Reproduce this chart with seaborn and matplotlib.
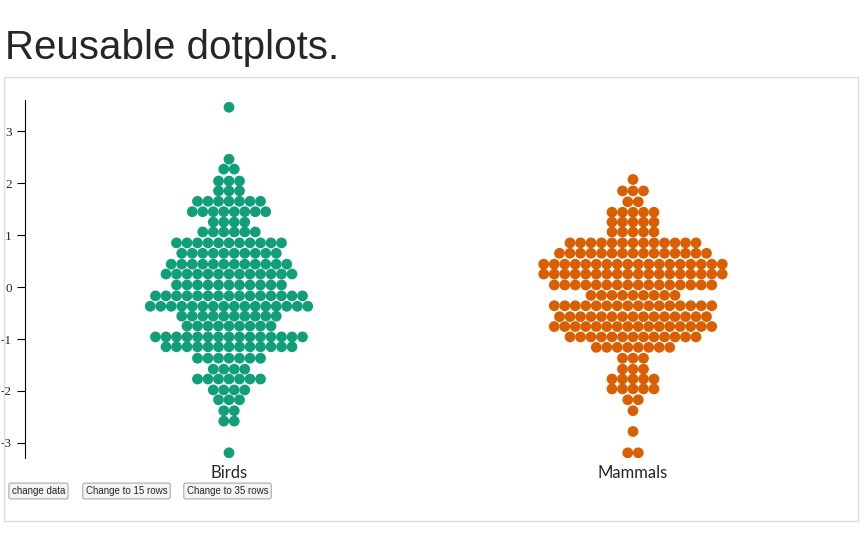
import matplotlib
matplotlib.use("Agg")
import matplotlib.pyplot as plt
import numpy as np
import pandas as pd
import seaborn as sns
from matplotlib.patches import Rectangle

# binned row values and dot counts per row
bird_rows = [3.46, 2.46, 2.27, 2.04, 1.85, 1.65, 1.45, 1.25, 1.06, 0.85, 0.65, 0.44, 0.25,
             0.04, -0.17, -0.37, -0.56, -0.75, -0.96, -1.15, -1.37, -1.58, -1.77, -1.98,
             -2.17, -2.38, -2.58, -3.19]
bird_counts = [1, 1, 2, 3, 3, 7, 8, 4, 6, 11, 10, 12, 13, 11, 15, 16, 10, 9, 15, 13, 7, 4,
               7, 4, 3, 2, 2, 1]
mammal_rows = [2.07, 1.85, 1.64, 1.44, 1.25, 1.06, 0.85, 0.65, 0.44, 0.25, 0.04, -0.16,
               -0.36, -0.57, -0.76, -0.96, -1.16, -1.37, -1.58, -1.77, -1.96, -2.17, -2.38,
               -2.78, -3.19]
mammal_counts = [1, 3, 2, 5, 5, 5, 13, 15, 18, 18, 16, 9, 16, 15, 16, 13, 8, 3, 3, 5, 5, 2,
                 1, 1, 2]
groups = ["Birds", "Mammals"]
colors = {"Birds": "#109f78", "Mammals": "#d95f02"}
yticks = [-3, -2, -1, 0, 1, 2, 3]

centers = {"Birds": 204, "Mammals": 608}  # in axis pixel units
step = 10.5

records = []
for g, rows, counts in [("Birds", bird_rows, bird_counts), ("Mammals", mammal_rows, mammal_counts)]:
    for v, n in zip(rows, counts):
        for i in range(n):
            records.append({"group": g, "y": v, "x": centers[g] + (i - (n - 1) / 2) * step})
df = pd.DataFrame(records)

sns.set_style("white")
fig = plt.figure(figsize=(8.64, 5.38), dpi=100)
W, H = 864, 538

# outer box
fig.patches.append(Rectangle((4 / W, 1 - 521 / H), 854 / W, 444 / H, transform=fig.transFigure,
                             fill=False, edgecolor="#dddddd", linewidth=1))
fig.text(5 / W, 1 - 48 / H, "Reusable dotplots.", fontsize=29, family="Liberation Sans",
         va="center", ha="left")

ax = fig.add_axes([25 / W, 1 - 458 / H, 833 / W, 358 / H])
sns.scatterplot(data=df, x="x", y="y", hue="group", palette=colors, s=60, edgecolor="none",
                legend=False, ax=ax)
ax.set_xlim(0, 833)
ax.set_ylim(-3.29, 3.6)
ax.set_yticks(yticks)
ax.set_yticklabels([str(t) for t in yticks], family="Liberation Serif", fontsize=9.5)
ax.set_xticks([])
ax.set_xlabel("")
ax.set_ylabel("")
for s in ["top", "right", "bottom"]:
    ax.spines[s].set_visible(False)
ax.spines["left"].set_color("black")
ax.tick_params(axis="y", length=6, direction="out", left=True, color="black")
ax.set_facecolor("none")

for g in groups:
    fig.text((25 + centers[g]) / W, 1 - 473 / H, g, fontsize=12, family="Lato",
             ha="center", va="center")

for label, x0, w in [("change data", 5, 67), ("Change to 15 rows", 78, 97), ("Change to 35 rows", 180, 95)]:
    fig.text((x0 + w / 2) / W, 1 - 491 / H, label, fontsize=7, family="Liberation Sans",
             ha="center", va="center",
             bbox=dict(boxstyle="round,pad=0.3,rounding_size=0.2", facecolor="#f4f4f4",
                       edgecolor="#aaaaaa", linewidth=0.8))

fig.savefig("out.png", dpi=100)
